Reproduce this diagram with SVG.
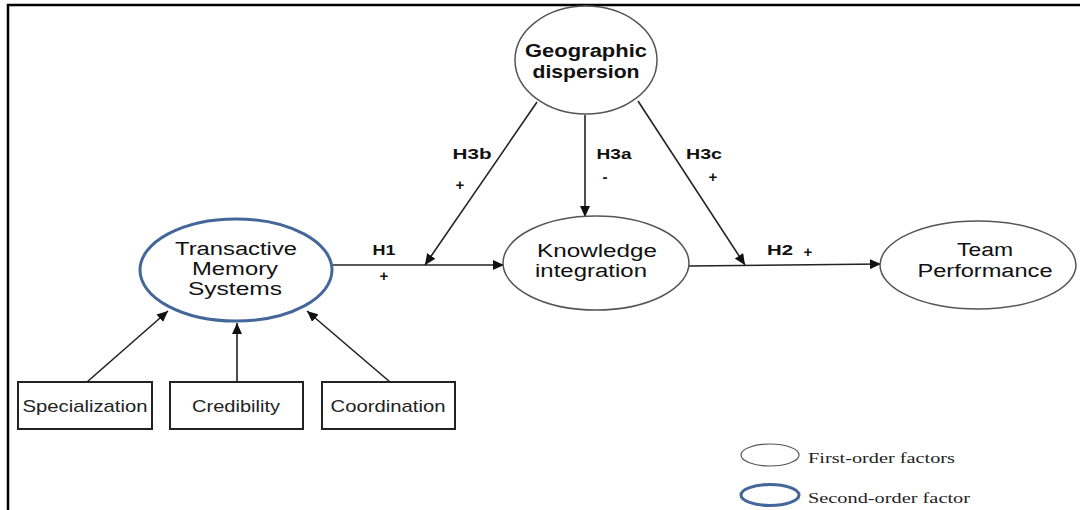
<svg xmlns="http://www.w3.org/2000/svg" width="1080" height="510" viewBox="0 0 1080 510">
<style>
.bg{fill:#fff}
.frame{stroke:#000;stroke-width:2.5;fill:none}
.first{fill:#fff;stroke:#555;stroke-width:1.5}
.second{fill:#fff;stroke:#44679a;stroke-width:3}
.box{fill:#fff;stroke:#222;stroke-width:2}
.lbl{font-family:"Liberation Sans",Arial,sans-serif;font-size:18px;fill:#111;text-anchor:middle}
.blbl{font-family:"Liberation Sans",Arial,sans-serif;font-size:17px;fill:#222;text-anchor:middle}
.h{font-family:"Liberation Sans",Arial,sans-serif;font-size:15px;font-weight:bold;fill:#111;text-anchor:middle}
.leg{font-family:"Liberation Serif","Times New Roman",serif;font-size:15px;fill:#222}
.edge{stroke:#222;stroke-width:1.6;fill:none}
</style>
<defs>
<marker id="arr" markerUnits="userSpaceOnUse" markerWidth="12" markerHeight="10" refX="11" refY="5" orient="auto">
<path d="M0,0 L11,5 L0,10 Z" fill="#111"/>
</marker>
</defs>
<rect class="bg" x="0" y="0" width="1080" height="510"/>
<path class="frame" d="M8,510 L8,5 L1080,5"/>

<g id="connectors">
<line class="edge" x1="87" y1="382" x2="168" y2="311" marker-end="url(#arr)"/>
<line class="edge" x1="237" y1="382" x2="237" y2="323" marker-end="url(#arr)"/>
<line class="edge" x1="390" y1="382" x2="307" y2="311" marker-end="url(#arr)"/>
<line class="edge" x1="333" y1="265" x2="504" y2="265" marker-end="url(#arr)"/>
<line class="edge" x1="537" y1="102" x2="425" y2="265" marker-end="url(#arr)"/>
<line class="edge" x1="585" y1="115" x2="585" y2="217" marker-end="url(#arr)"/>
<line class="edge" x1="638" y1="101" x2="745" y2="265" marker-end="url(#arr)"/>
<line class="edge" x1="689" y1="266" x2="881" y2="264" marker-end="url(#arr)"/>
<text class="h" x="384" y="255" textLength="23" lengthAdjust="spacingAndGlyphs">H1</text>
<text class="h" x="384" y="281">+</text>
<text class="h" x="472" y="159" textLength="39" lengthAdjust="spacingAndGlyphs">H3b</text>
<text class="h" x="460" y="190">+</text>
<text class="h" x="614" y="159" textLength="35" lengthAdjust="spacingAndGlyphs">H3a</text>
<text class="h" x="605" y="182">-</text>
<text class="h" x="704" y="159" textLength="36" lengthAdjust="spacingAndGlyphs">H3c</text>
<text class="h" x="713" y="182">+</text>
<text class="h" x="780" y="255" textLength="26" lengthAdjust="spacingAndGlyphs">H2</text>
<text class="h" x="808" y="257">+</text>
</g>

<g id="geographic">
<ellipse class="first" cx="586" cy="60" rx="71" ry="54"/>
<text class="lbl" x="586" y="57" textLength="122" lengthAdjust="spacingAndGlyphs" font-weight="bold">Geographic</text>
<text class="lbl" x="586" y="78" textLength="107" lengthAdjust="spacingAndGlyphs" font-weight="bold">dispersion</text>
</g>

<g id="tms">
<ellipse class="second" cx="236" cy="270" rx="96" ry="51"/>
<text class="lbl" x="236" y="255" textLength="122" lengthAdjust="spacingAndGlyphs">Transactive</text>
<text class="lbl" x="235" y="275" textLength="86" lengthAdjust="spacingAndGlyphs">Memory</text>
<text class="lbl" x="235" y="295" textLength="94" lengthAdjust="spacingAndGlyphs">Systems</text>
</g>

<g id="knowledge">
<ellipse class="first" cx="596" cy="263" rx="93" ry="47"/>
<text class="lbl" x="597" y="257" textLength="120" lengthAdjust="spacingAndGlyphs">Knowledge</text>
<text class="lbl" x="591" y="277" textLength="112" lengthAdjust="spacingAndGlyphs">integration</text>
</g>

<g id="team">
<ellipse class="first" cx="978" cy="265" rx="98" ry="44"/>
<text class="lbl" x="985" y="256" textLength="56" lengthAdjust="spacingAndGlyphs">Team</text>
<text class="lbl" x="985" y="277" textLength="135" lengthAdjust="spacingAndGlyphs">Performance</text>
</g>

<g id="specialization">
<rect class="box" x="18" y="382" width="134" height="47"/>
<text class="blbl" x="85" y="412" textLength="125" lengthAdjust="spacingAndGlyphs">Specialization</text>
</g>
<g id="credibility">
<rect class="box" x="170" y="382" width="133" height="47"/>
<text class="blbl" x="236" y="412" textLength="88" lengthAdjust="spacingAndGlyphs">Credibility</text>
</g>
<g id="coordination">
<rect class="box" x="322" y="382" width="133" height="47"/>
<text class="blbl" x="388" y="412" textLength="115" lengthAdjust="spacingAndGlyphs">Coordination</text>
</g>

<g id="legend">
<ellipse cx="770" cy="455" rx="29" ry="11" fill="#fff" stroke="#555" stroke-width="1.2"/>
<text class="leg" x="808" y="463" textLength="147" lengthAdjust="spacingAndGlyphs">First-order factors</text>
<ellipse cx="770" cy="495" rx="29" ry="10.5" fill="#fff" stroke="#44679a" stroke-width="3"/>
<text class="leg" x="808" y="503" textLength="162" lengthAdjust="spacingAndGlyphs">Second-order factor</text>
</g>
</svg>
